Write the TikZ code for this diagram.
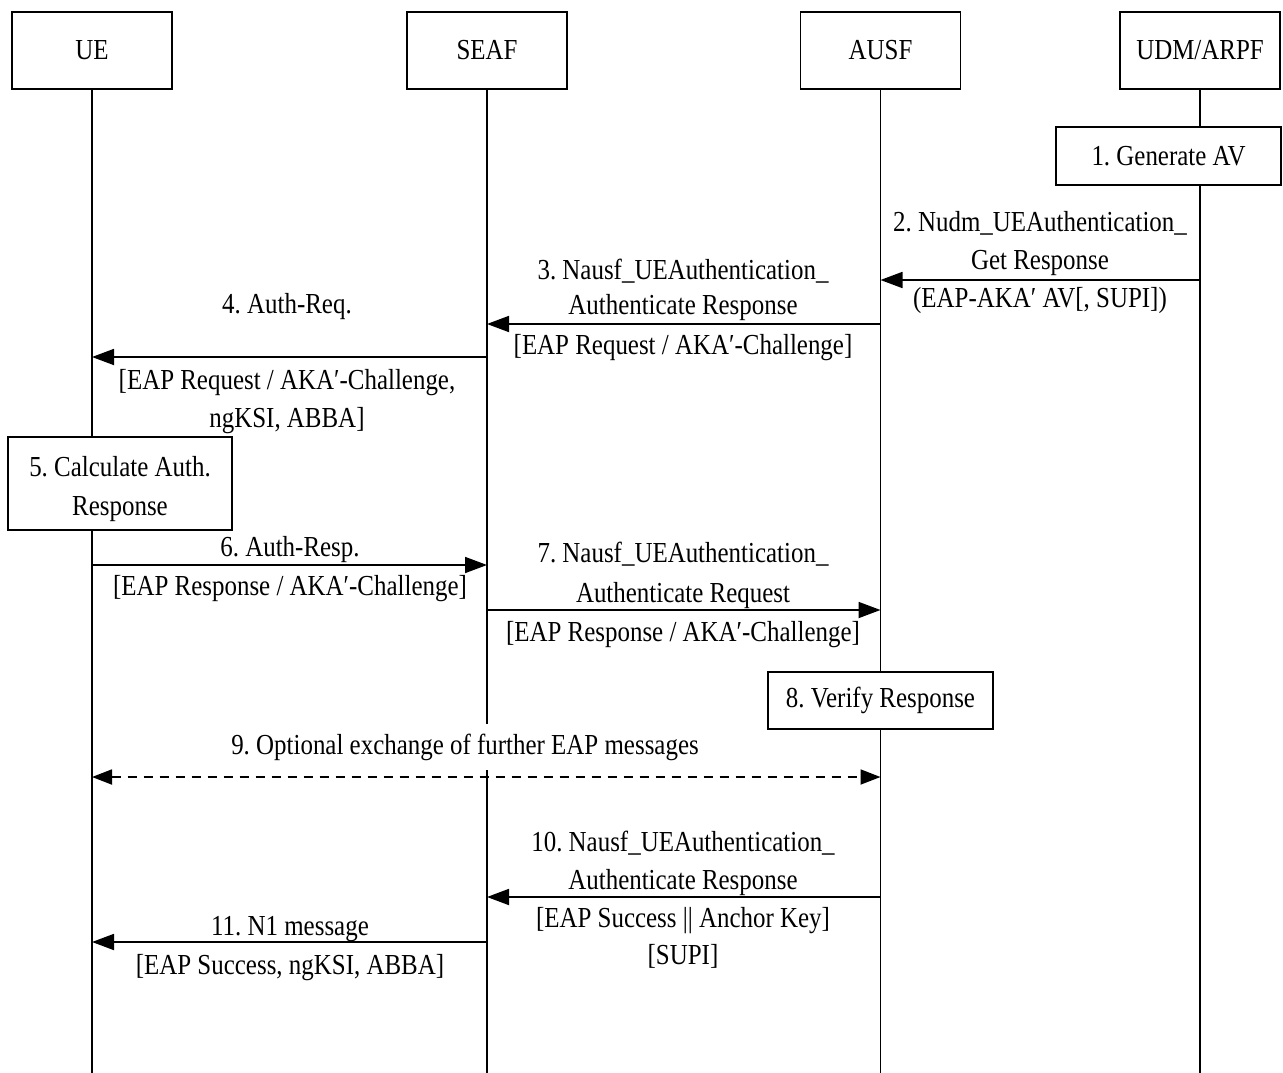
\documentclass[tikz,border=0pt]{standalone}
\usepackage{fontspec}
\setmainfont[FakeStretch=0.86]{Liberation Serif}
\usetikzlibrary{arrows.meta}
\frenchspacing
\begin{document}
\begin{tikzpicture}[x=1pt,y=-1pt,
  every node/.style={font=\fontsize{29}{38}\selectfont},
  actor/.style={draw,line width=1.2pt,minimum width=160pt,minimum height=77pt,inner sep=0pt},
  actbox/.style={draw,fill=white,line width=1.2pt,inner sep=0pt,align=center},
  life/.style={line width=1.2pt},
  msg/.style={line width=1.8pt,-{Triangle[length=22pt,width=16pt]}},
  lbl/.style={inner sep=0pt,align=center,anchor=base}]
\useasboundingbox (0,0) rectangle (1283,1073);
% actors
\node[actor] (ue) at (92,50.5) {UE};
\node[actor] (seaf) at (487,50.5) {SEAF};
\node[actor] (ausf) at (880.5,50.5) {AUSF};
\node[actor] (udm) at (1200,50.5) {UDM/ARPF};
\coordinate (ueE) at (92,1073);
\coordinate (seafE) at (487,1073);
\coordinate (ausfE) at (880.5,1073);
\coordinate (udmE) at (1200,1073);
\draw[life] (ue.south) -- (ueE);
\draw[life] (seaf.south) -- (seafE);
\draw[life] (ausf.south) -- (ausfE);
\draw[life] (udm.south) -- (udmE);
% 1
\node[actbox,minimum width=225pt,minimum height=58pt] (s1) at (1168.5,156) {1. Generate AV};
% 2
\coordinate (a2s) at (1200,280); \coordinate (a2e) at (880.5,280);
\draw[msg] (a2s) -- (a2e);
\node[lbl] (l2a) at (1040,231) {2. Nudm\_UEAuthentication\_};
\node[lbl] (l2b) at (1040,269) {Get Response};
\node[lbl] (l2c) at (1040,307) {(EAP-AKA′ AV[, SUPI])};
% 3
\coordinate (a3s) at (880.5,324); \coordinate (a3e) at (487,324);
\draw[msg] (a3s) -- (a3e);
\node[lbl] (l3a) at (683,279) {3. Nausf\_UEAuthentication\_};
\node[lbl] (l3b) at (683,314) {Authenticate Response};
\node[lbl] (l3c) at (683,354) {[EAP Request / AKA′-Challenge]};
% 4
\coordinate (a4s) at (487,357); \coordinate (a4e) at (92,357);
\draw[msg] (a4s) -- (a4e);
\node[lbl] (l4a) at (287,313) {4. Auth-Req.};
\node[lbl] (l4b) at (287,389) {[EAP Request / AKA′-Challenge,};
\node[lbl] (l4c) at (287,427) {ngKSI, ABBA]};
% 5
\node[actbox,minimum width=224pt,minimum height=93pt] (s5) at (120,483.5) {};
\node[lbl] (l5a) at (120,476) {5. Calculate Auth.};
\node[lbl] (l5b) at (120,515) {Response};
% 6
\coordinate (a6s) at (92,565); \coordinate (a6e) at (487,565);
\draw[msg] (a6s) -- (a6e);
\node[lbl] (l6a) at (290,556) {6. Auth-Resp.};
\node[lbl] (l6b) at (290,595) {[EAP Response / AKA′-Challenge]};
% 7
\coordinate (a7s) at (487,610); \coordinate (a7e) at (880.5,610);
\draw[msg] (a7s) -- (a7e);
\node[lbl] (l7a) at (683,562) {7. Nausf\_UEAuthentication\_};
\node[lbl] (l7b) at (683,602) {Authenticate Request};
\node[lbl] (l7c) at (683,641) {[EAP Response / AKA′-Challenge]};
% 8
\node[actbox,minimum width=225pt,minimum height=57pt] (s8) at (880.5,700.5) {8. Verify Response};
% 9
\coordinate (a9s) at (92,777); \coordinate (a9e) at (880.5,777);
\draw[line width=1.8pt,dash pattern=on 9pt off 7pt,{Triangle[length=20pt,width=15pt]}-{Triangle[length=20pt,width=15pt]}] (a9s) -- (a9e);
\node[lbl,fill=white,inner ysep=10pt,inner xsep=2pt] (l9) at (465,754) {9. Optional exchange of further EAP messages};
% 10
\coordinate (a10s) at (880.5,897); \coordinate (a10e) at (487,897);
\draw[msg] (a10s) -- (a10e);
\node[lbl] (l10a) at (683,851) {10. Nausf\_UEAuthentication\_};
\node[lbl] (l10b) at (683,889) {Authenticate Response};
\node[lbl] (l10c) at (683,927) {[EAP Success || Anchor Key]};
\node[lbl] (l10d) at (683,964) {[SUPI]};
% 11
\coordinate (a11s) at (487,942); \coordinate (a11e) at (92,942);
\draw[msg] (a11s) -- (a11e);
\node[lbl] (l11a) at (290,935) {11. N1 message};
\node[lbl] (l11b) at (290,974) {[EAP Success, ngKSI, ABBA]};
\end{tikzpicture}
\end{document}
